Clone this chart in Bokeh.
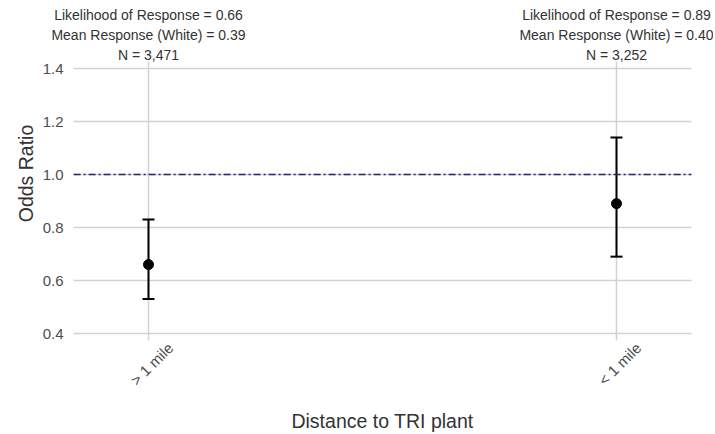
import math
from bokeh.plotting import figure
from bokeh.models import (ColumnDataSource, Range1d, FixedTicker, Whisker, TeeHead,
                          Label, LinearAxis, PrintfTickFormatter)
from bokeh.embed import file_html
from bokeh.resources import INLINE

# ---- data ----
categories = ["> 1 mile", "< 1 mile"]
odds_ratio = [0.66, 0.89]
ci_lower = [0.53, 0.69]
ci_upper = [0.83, 1.14]
likelihood = ["0.66", "0.89"]
mean_response_white = ["0.39", "0.40"]
n_obs = ["3,471", "3,252"]
y_ticks = [0.4, 0.6, 0.8, 1.0, 1.2, 1.4]
reference_line = 1.0
x_title = "Distance to TRI plant"
y_title = "Odds Ratio"

FONT = "Liberation Sans"
xpos = list(range(1, len(categories) + 1))
src = ColumnDataSource(dict(x=xpos, y=odds_ratio, lower=ci_lower, upper=ci_upper))

# layout: the frame covers the whole canvas, axes are pinned inside it
W, H = 713, 432
PX_X, PX_Y = 468.0, 265.0          # pixels per data unit
X0 = 1 - 148 / PX_X                # data x at the canvas' left edge
Y1 = 1.4 + 68 / PX_Y               # data y at the canvas' top edge
XLO, XHI = 0.84, 2.16              # panel limits
YLO, YHI = 0.375, 1.425

p = figure(frame_width=W, frame_height=H, min_border=0,
           x_range=Range1d(X0, X0 + W / PX_X), y_range=Range1d(Y1 - H / PX_Y, Y1),
           output_backend="svg", toolbar_location=None)
p.outline_line_color = None
p.background_fill_color = "white"
p.border_fill_color = "white"

# grids
p.xgrid.ticker = FixedTicker(ticks=xpos)
p.ygrid.ticker = FixedTicker(ticks=y_ticks)
p.xgrid.cross_bounds = (YLO, YHI)
p.ygrid.cross_bounds = (XLO, XHI)
for g in (p.xgrid, p.ygrid):
    g.grid_line_color = "#d2d2d2"
    g.grid_line_width = 1.5

# y axis pinned at the panel's left edge
ya = p.yaxis[0]
ya.fixed_location = XLO
ya.ticker = FixedTicker(ticks=y_ticks)
ya.formatter = PrintfTickFormatter(format="%.1f")
ya.major_label_text_font = FONT
ya.major_label_text_font_size = "15px"
ya.major_label_text_color = "#4d4d4d"
ya.major_label_standoff = 10

# x axis for the category labels (shifted so rotated labels are centred like the original)
p.xaxis.visible = False
shift = 22 / PX_X
p.extra_x_ranges = {"lab": Range1d(X0 - shift, X0 + W / PX_X - shift)}
xa = LinearAxis(x_range_name="lab", ticker=FixedTicker(ticks=xpos),
                major_label_overrides={x: c for x, c in zip(xpos, categories)})
p.add_layout(xa, "below")
xa.fixed_location = YLO
xa.major_label_orientation = math.pi / 4
xa.major_label_standoff = 5
xa.major_label_text_font = FONT
xa.major_label_text_font_size = "15px"
xa.major_label_text_color = "#4d4d4d"

for ax in (ya, xa):
    ax.axis_line_color = None
    ax.major_tick_line_color = None
    ax.minor_tick_line_color = None
    ax.major_tick_out = 0
    ax.major_tick_in = 0
    ax.minor_tick_out = 0
    ax.minor_tick_in = 0

# axis titles
p.add_layout(Label(x=25, y=H - 173, x_units="screen", y_units="screen", text=y_title,
                   angle=math.pi / 2, text_align="center", text_baseline="middle",
                   text_font=FONT, text_font_size="19.5px", text_color="#333333"))
p.add_layout(Label(x=(XLO + XHI) / 2, y=H - 420, y_units="screen", text=x_title,
                   text_align="center", text_baseline="middle",
                   text_font=FONT, text_font_size="19.5px", text_color="#333333"))

# reference line
p.segment(x0=XLO, x1=XHI, y0=reference_line, y1=reference_line,
          line_color="#262673", line_dash="7 3 2 3", line_width=1.7)

# error bars
p.add_layout(Whisker(source=src, base="x", upper="upper", lower="lower",
                     line_color="black", line_width=2,
                     upper_head=TeeHead(size=12, line_color="black", line_width=2),
                     lower_head=TeeHead(size=12, line_color="black", line_width=2)))

p.scatter("x", "y", source=src, size=10, color="black")

# annotations above the panel
for i, xv in enumerate(xpos):
    lines = [f"Likelihood of Response = {likelihood[i]}",
             f"Mean Response (White) = {mean_response_white[i]}",
             f"N = {n_obs[i]}"]
    for j, t in enumerate(lines):
        p.add_layout(Label(x=xv, y=H - 14 - 20 * j, y_units="screen", text=t,
                           text_align="center", text_baseline="middle",
                           text_font=FONT, text_font_size="14px", text_color="#333333"))

open("out.html", "w").write(file_html(p, INLINE))
